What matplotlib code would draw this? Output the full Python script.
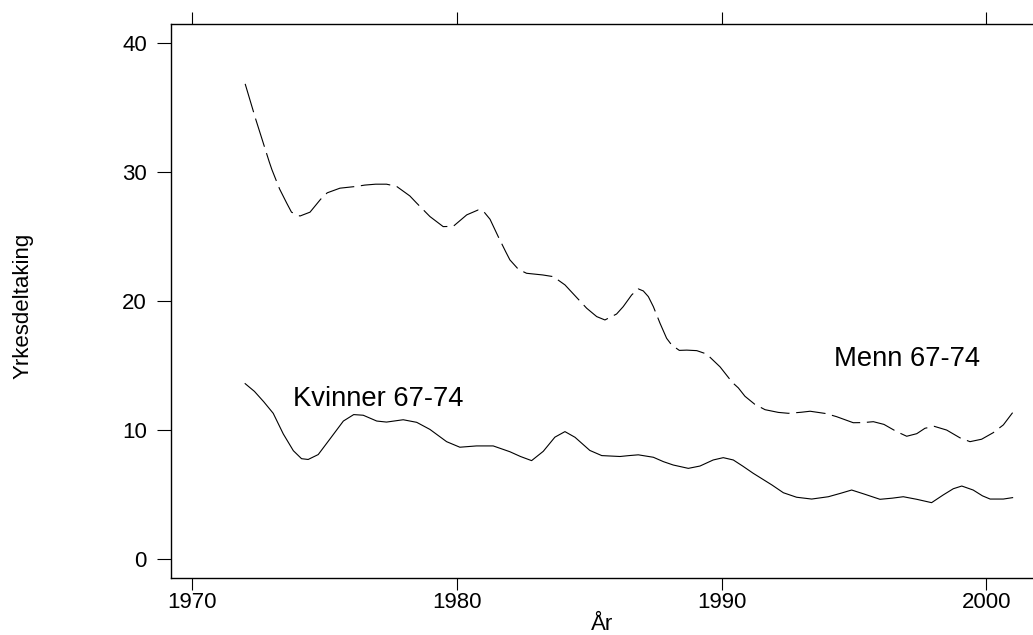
import matplotlib
matplotlib.use("Agg")
import matplotlib.pyplot as plt

plt.rcParams['font.family'] = ['Liberation Sans', 'DejaVu Sans']

# Menn 67-74 (dashed)
menn_years = [1972.0, 1972.4, 1972.91, 1973.01, 1973.3, 1973.57, 1973.75, 1974.07, 1974.45, 1974.85,
              1975.1, 1975.58, 1976.21, 1976.52, 1976.93, 1977.34, 1977.72, 1978.22, 1978.48, 1978.98,
              1979.48, 1979.86, 1980.37, 1980.8, 1980.99, 1981.25, 1981.56, 1981.84, 1982.0, 1982.32,
              1982.63, 1983.24, 1983.64, 1984.08, 1984.65, 1984.9, 1985.28, 1985.59, 1986.03, 1986.28,
              1986.6, 1986.85, 1987.04, 1987.23, 1987.42, 1987.67, 1987.92, 1988.11, 1988.4, 1988.68,
              1989.06, 1989.43, 1989.94, 1990.4, 1990.63, 1990.88, 1991.25, 1991.64, 1992.14, 1992.52,
              1993.0, 1993.34, 1993.94, 1994.34, 1994.97, 1995.35, 1995.73, 1996.13, 1996.61, 1996.99,
              1997.37, 1997.68, 1998.03, 1998.5, 1999.0, 1999.38, 1999.82, 2000.26, 2000.64, 2000.99]
menn_values = [36.85, 34.1, 30.8, 30.2, 28.7, 27.6, 26.9, 26.6, 26.9, 27.9,
               28.4, 28.76, 28.9, 29.0, 29.07, 29.07, 28.9, 28.16, 27.6, 26.56,
               25.78, 25.8, 26.69, 27.07, 27.0, 26.35, 25.0, 23.84, 23.2, 22.47,
               22.16, 22.03, 21.9, 21.26, 20.0, 19.45, 18.8, 18.54, 19.0, 19.57,
               20.48, 20.95, 20.79, 20.35, 19.57, 18.29, 17.12, 16.6, 16.18, 16.2,
               16.16, 15.9, 14.9, 13.7, 13.27, 12.62, 12.0, 11.58, 11.37, 11.3,
               11.38, 11.46, 11.28, 11.04, 10.57, 10.58, 10.65, 10.44, 9.88, 9.52,
               9.72, 10.14, 10.29, 10.0, 9.4, 9.1, 9.29, 9.8, 10.4, 11.35]

# Kvinner 67-74 (solid)
kvinner_years = [1972.0, 1972.35, 1972.7, 1973.06, 1973.44, 1973.82, 1974.13, 1974.38, 1974.76, 1975.2,
                 1975.71, 1976.1, 1976.46, 1976.97, 1977.34, 1977.97, 1978.48, 1978.98, 1979.61, 1980.11,
                 1980.74, 1981.37, 1982.0, 1982.4, 1982.82, 1983.26, 1983.7, 1984.08, 1984.46, 1985.02,
                 1985.47, 1986.16, 1986.5, 1986.85, 1987.42, 1987.8, 1988.17, 1988.74, 1989.18, 1989.68,
                 1990.06, 1990.44, 1990.8, 1991.19, 1991.9, 1992.33, 1992.83, 1993.4, 1994.03, 1994.5,
                 1994.91, 1995.41, 1995.98, 1996.45, 1996.86, 1997.37, 1997.93, 1998.37, 1998.75, 1999.07,
                 1999.5, 1999.85, 2000.14, 2000.64, 2000.99]
kvinner_values = [13.6, 13.0, 12.2, 11.3, 9.7, 8.4, 7.78, 7.72, 8.1, 9.3,
                  10.7, 11.2, 11.15, 10.7, 10.62, 10.8, 10.6, 10.05, 9.1, 8.67,
                  8.77, 8.77, 8.32, 7.95, 7.63, 8.35, 9.45, 9.88, 9.44, 8.42,
                  8.02, 7.95, 8.02, 8.08, 7.89, 7.55, 7.29, 7.03, 7.21, 7.68,
                  7.86, 7.68, 7.2, 6.65, 5.74, 5.14, 4.79, 4.65, 4.83, 5.1,
                  5.35, 5.02, 4.63, 4.72, 4.83, 4.63, 4.37, 4.97, 5.45, 5.66,
                  5.35, 4.9, 4.65, 4.65, 4.76]

x_ticks = [1970, 1980, 1990, 2000]
y_ticks = [0, 10, 20, 30, 40]
menn_label = "Menn 67-74"
kvinner_label = "Kvinner 67-74"
x_title = "År"
y_title = "Yrkesdeltaking"

W, H = 1033, 635
fig = plt.figure(figsize=(W / 100, H / 100), dpi=100)
left_px, right_px, top_px, bot_px = 171.3, 1040.0, 24.3, 577.7
ax = fig.add_axes([left_px / W, 1 - bot_px / H, (right_px - left_px) / W, (bot_px - top_px) / H])

ax.plot(menn_years, menn_values, color='black', lw=0.8, dashes=(26.6, 6.0),
        dash_joinstyle='round', dash_capstyle='butt')
ax.plot(kvinner_years, kvinner_values, color='black', lw=0.8, solid_joinstyle='round')

ax.set_xlim(1969.21, 1970 + (right_px - 192.3) / 26.47)
ax.set_ylim(-1.45, 41.47)

ax.spines['right'].set_visible(False)
for s in ['left', 'top', 'bottom']:
    ax.spines[s].set_linewidth(1.0)
    ax.spines[s].set_color('black')

ax.set_xticks(x_ticks)
ax.set_yticks(y_ticks)
ax.tick_params(axis='x', which='both', direction='out', length=8.8, width=0.8,
               top=True, bottom=True, labeltop=False, labelsize=16, pad=1.5)
ax.tick_params(axis='y', which='both', direction='out', length=10, width=0.8,
               right=False, labelsize=16, pad=7.5)

ax.text(1973.79, 11.89, kvinner_label, fontsize=19.7, ha='left', va='baseline')
ax.text(1994.24, 14.97, menn_label, fontsize=19.7, ha='left', va='baseline')

fig.text(602 / W, 1 - 630 / H, x_title, fontsize=16, ha='center', va='baseline')
fig.text(23 / W, 1 - 306 / H, y_title, fontsize=16, rotation=90, ha='center', va='center')

fig.savefig("out.png", dpi=100)
